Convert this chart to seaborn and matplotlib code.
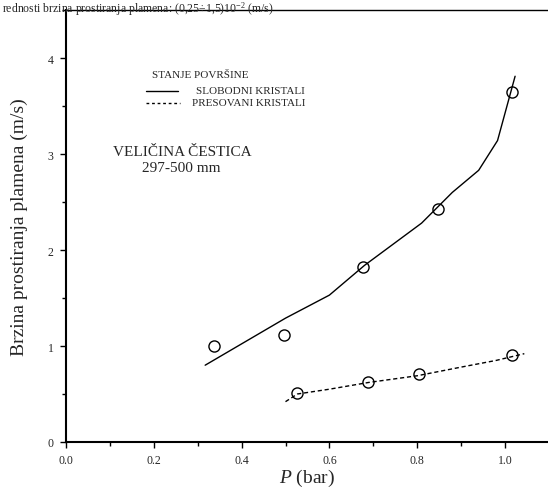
import matplotlib
matplotlib.use("Agg")
import matplotlib.pyplot as plt
import seaborn as sns
import pandas as pd
from matplotlib.ticker import MultipleLocator

# Data
slob_line_p = [0.317, 0.50, 0.60, 0.68, 0.81, 0.88, 0.94, 0.983, 1.023]
slob_line_v = [0.80, 1.29, 1.53, 1.84, 2.28, 2.60, 2.83, 3.14, 3.81]
slob_pts_p = [0.338, 0.497, 0.677, 0.847, 1.017]
slob_pts_v = [1.00, 1.11, 1.82, 2.43, 3.65]

pres_line_p = [0.50, 0.527, 0.60, 0.689, 0.80, 0.90, 0.98, 1.044]
pres_line_v = [0.42, 0.50, 0.55, 0.62, 0.69, 0.78, 0.85, 0.92]
pres_pts_p = [0.527, 0.689, 0.803, 1.017]
pres_pts_v = [0.506, 0.626, 0.706, 0.91]

x_ticks = [0.0, 0.2, 0.4, 0.6, 0.8, 1.0]
x_tick_labels = ["0.0", "0.2", "0.4", "0.6", "0.8", "1.0"]
y_ticks = [0, 1, 2, 3, 4]
y_tick_labels = ["0", "1", "2", "3", "4"]

sns.set_style("ticks")
plt.rcParams["font.family"] = ["Liberation Serif", "DejaVu Serif"]
plt.rcParams["mathtext.fontset"] = "custom"
plt.rcParams["mathtext.it"] = "Liberation Serif:italic"
plt.rcParams["mathtext.rm"] = "Liberation Serif"

fig = plt.figure(figsize=(5.48, 4.89), dpi=100)
ax = fig.add_axes([66 / 548, 1 - 443 / 489, 1.1 * 439 / 548, (443 - 11) / 489])

df_sl = pd.DataFrame({"P": slob_line_p, "v": slob_line_v})
df_sp = pd.DataFrame({"P": slob_pts_p, "v": slob_pts_v})
df_pl = pd.DataFrame({"P": pres_line_p, "v": pres_line_v})
df_pp = pd.DataFrame({"P": pres_pts_p, "v": pres_pts_v})

sns.lineplot(data=df_sl, x="P", y="v", sort=False, color="black", lw=1.0, ax=ax)
sns.lineplot(data=df_pl, x="P", y="v", sort=False, color="black", lw=1.0,
             ax=ax, linestyle=(0, (3, 2)))
ax.plot(df_sp["P"], df_sp["v"], "o", mfc="none", mec="black", ms=8, mew=1.0)
ax.plot(df_pp["P"], df_pp["v"], "o", mfc="none", mec="black", ms=8, mew=1.0)

ax.set_xlim(0, 1.1)
ax.set_ylim(0, 4.5)
ax.set_xticks(x_ticks)
ax.set_xticklabels(x_tick_labels, fontsize=8.5)
ax.set_yticks(y_ticks)
ax.set_yticklabels(y_tick_labels, fontsize=8.5)
ax.xaxis.set_minor_locator(MultipleLocator(0.1))
ax.yaxis.set_minor_locator(MultipleLocator(0.5))
ax.tick_params(which="both", direction="out", length=4, width=1.0, color="black", pad=5)
ax.tick_params(which="minor", length=3)
for side in ["left", "bottom", "top"]:
    ax.spines[side].set_color("black")
ax.spines["left"].set_linewidth(1.5)
ax.spines["bottom"].set_linewidth(1.5)
ax.spines["top"].set_linewidth(1.0)
ax.spines["right"].set_visible(False)

ax.set_xlabel(r"$P$ (bar)", fontsize=14, labelpad=0)
ax.set_ylabel("Brzina prostiranja plamena (m/s)", fontsize=14, labelpad=14)

# Legend-like annotations
fig.text(152 / 548, 1 - 75 / 489, "STANJE POVRŠINE", fontsize=8, va="center", ha="left")
fig.add_artist(plt.Line2D([146 / 548, 178 / 548], [1 - 92 / 489, 1 - 92 / 489],
                          color="black", lw=1.0))
fig.text(196 / 548, 1 - 92 / 489, "SLOBODNI KRISTALI", fontsize=8, va="center", ha="left")
fig.add_artist(plt.Line2D([146 / 548, 180 / 548], [1 - 104 / 489, 1 - 104 / 489],
                          color="black", lw=1.0, linestyle=(0, (2, 2))))
fig.text(192 / 548, 1 - 104 / 489, "PRESOVANI KRISTALI", fontsize=8, va="center", ha="left")

fig.text(113 / 548, 1 - 152 / 489, "VELIČINA ČESTICA", fontsize=11, va="center", ha="left")
fig.text(142 / 548, 1 - 168 / 489, "297-500 mm", fontsize=11, va="center", ha="left")

# Caption line at the very top (cropped in the reference)
fig.text(0.003, 0.999, "rednosti brzina prostiranja plamena: (0,25÷1,5)10$^{-2}$ (m/s)",
         fontsize=8.5, va="top", ha="left")

fig.savefig("out.png", dpi=100)
